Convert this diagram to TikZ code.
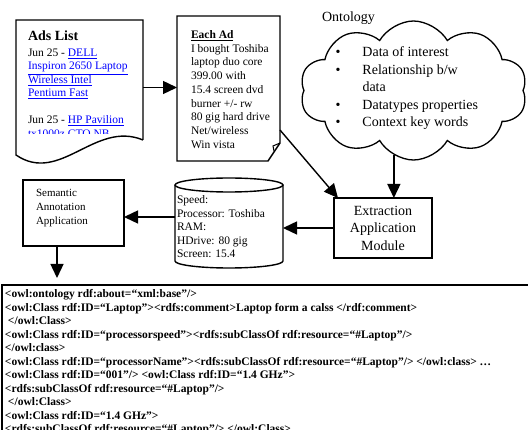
\documentclass[tikz,border=0pt]{standalone}
\usepackage{fontspec}
\setmainfont{Liberation Serif}
\usetikzlibrary{shapes,shapes.symbols,arrows.meta,calc,positioning}

\newcommand{\lnk}[1]{\textcolor{blue}{\underline{#1}}}

\begin{document}
\begin{tikzpicture}[x=1pt,y=1pt,
  every node/.style={inner sep=0pt, outer sep=0pt},
  shp/.style={line width=1.4pt},
  arr/.style={line width=1.4pt, -{Triangle[length=14pt,width=13pt]}},
  txt/.style={anchor=base west, font=\fontsize{11.5}{13.5}\selectfont}]
  \useasboundingbox (0,0) rectangle (528,-430);

  % ads list page
  \node [minimum width=127pt, minimum height=135pt] (ads) at (79.5,-87.5) {};
  \draw[shp] ([yshift=15pt]ads.south east) -- (ads.north east) -- (ads.north west) -- (ads.south west)
    .. controls +(44,-30) and +(-48,20) .. ([yshift=15pt]ads.south east);
  \begin{scope}
    \clip (ads.north west) rectangle ([yshift=21pt]ads.south east);
    \node[txt] (adstxt) at (28,-41) {\parbox[t]{125pt}{%
      {\fontsize{14}{15}\selectfont\bfseries Ads List}\\[2pt]
      Jun 25 - \lnk{DELL}\\
      \lnk{Inspiron 2650 Laptop}\\
      \lnk{Wireless Intel}\\
      \lnk{Pentium Fast}\\[13.5pt]
      Jun 25 - \lnk{HP Pavilion}\\
      \lnk{tx1000z CTO NB}}};
  \end{scope}

  % each ad page
  \node [minimum width=103pt, minimum height=145pt] (ead) at (228.5,-88.5) {};
  \draw[shp] (ead.south west) -- (ead.north west) -- (ead.north east) -- ([yshift=18pt]ead.south east)
    -- ([xshift=-12pt]ead.south east) -- cycle;
  \draw[line width=1pt] ([yshift=18pt]ead.south east) -- ++(-7,-3) -- ++(1,-5);
  \node[txt, font=\fontsize{11.5}{13.75}\selectfont] (eadtxt) at (191,-38.5) {\parbox[t]{88pt}{%
    \textbf{\underline{Each Ad}}\\
    I bought Toshiba\\
    laptop duo core\\
    399.00 with\\
    15.4 screen dvd\\
    burner +/- rw\\
    80 gig hard drive\\
    Net/wireless\\
    Win vista}};

  % ontology cloud
  \node[anchor=base west, font=\fontsize{14}{17}\selectfont] (ontolbl) at (322,-21.5) {Ontology};
  \node[cloud, draw, line width=1.3pt, cloud puffs=10, cloud puff arc=120, aspect=1.6,
        minimum width=227pt, minimum height=139pt] (onto) at (413.5,-90.5) {};
  \node[anchor=base west, font=\fontsize{14}{17.5}\selectfont] (ontotxt) at (335.5,-57) {\parbox[t]{180pt}{%
    \makebox[27pt][l]{\textbullet}Data of interest\\
    \makebox[27pt][l]{\textbullet}Relationship b/w\\
    \hspace*{27pt}data\\
    \makebox[27pt][l]{\textbullet}Datatypes properties\\
    \makebox[27pt][l]{\textbullet}Context key words}};

  % extraction module
  \node[draw, shp, minimum width=98pt, minimum height=60pt, align=center,
        font=\fontsize{14}{17.5}\selectfont] (ext) at (383,-228) {Extraction\\Application\\Module};

  % database
  \node [minimum width=108pt, minimum height=76pt] (db) at (229,-223) {};
  \draw[shp] (db.north) ellipse [x radius=54pt, y radius=7pt];
  \draw[shp] (db.north west) -- (db.south west)
    arc [start angle=180, end angle=360, x radius=54pt, y radius=7pt] -- (db.north east);
  \node[txt] (dbtxt) at (177,-204) {\parbox[t]{104pt}{%
    Speed:\\
    Processor: Toshiba\\
    RAM:\\
    HDrive: 80 gig\\
    Screen: 15.4}};

  % semantic annotation
  \node[draw, shp, minimum width=101pt, minimum height=66pt] (sem) at (73.5,-213) {};
  \node[txt, font=\fontsize{11}{14}\selectfont] (semtxt) at (36,-197) {\parbox[t]{85pt}{%
    Semantic\\
    Annotation\\
    Application}};

  % owl output
  \node[draw, line width=2pt, anchor=north west, minimum width=540pt, minimum height=170pt] (owl) at (2,-285) {};
  \node[txt, font=\fontsize{11.5}{13.5}\selectfont\bfseries] (owltxt) at (5,-298) {\parbox[t]{520pt}{\raggedright
    <owl:ontology rdf:about=“xml:base”/>\\
    <owl:Class rdf:ID=“Laptop”><rdfs:comment>Laptop form a calss </rdf:comment>\\
    \hspace*{3pt}</owl:Class>\\
    <owl:Class rdf:ID=“processorspeed”><rdfs:subClassOf rdf:resource=“\#Laptop”/>\\
    </owl:class>\\
    <owl:Class rdf:ID=“processorName”><rdfs:subClassOf rdf:resource=“\#Laptop”/> </owl:class> …\\
    <owl:Class rdf:ID=“001”/> <owl:Class rdf:ID=“1.4 GHz”>\\
    <rdfs:subClassOf rdf:resource=“\#Laptop”/>\\
    \hspace*{3pt}</owl:Class>\\
    <owl:Class rdf:ID=“1.4 GHz”>\\
    <rdfs:subClassOf rdf:resource=“\#Laptop”/> </owl:Class>}};

  % connectors
  \draw[arr] (ads.east) -- (ads.east -| ead.west);
  \draw[arr] ([yshift=-41.5pt]ead.east) -- ([xshift=4pt]ext.north west);
  \draw[arr] (onto.253) -- (onto.253 |- ext.north);
  \draw[arr] (ext.west) -- (ext.west -| db.east);
  \coordinate (semin) at ($(sem.east)+(0,-4)$);
  \draw[arr] (semin -| db.west) -- (semin);
  \coordinate (semout) at ([xshift=-16.5pt]sem.south);
  \draw[arr, shorten >=7pt] (semout) -- (semout |- owl.north);
\end{tikzpicture}
\end{document}
